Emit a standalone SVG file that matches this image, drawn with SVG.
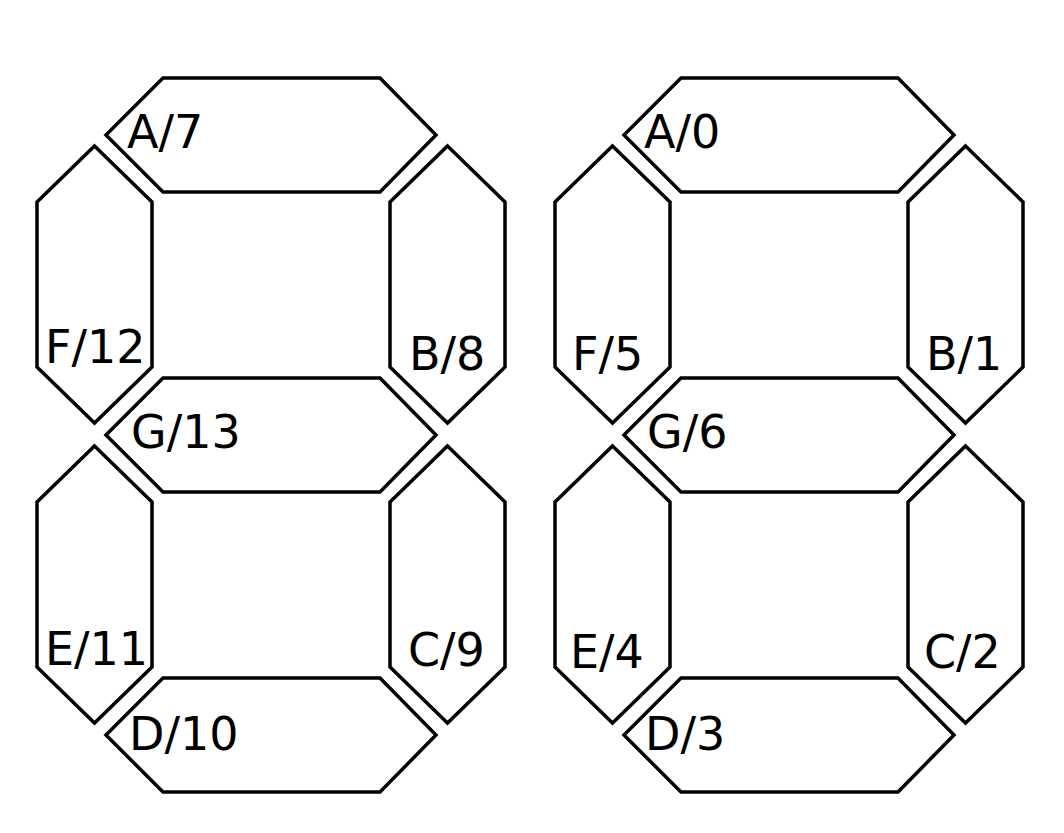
<svg xmlns="http://www.w3.org/2000/svg" width="1064" height="833" viewBox="0 0 1064 833">
<style>
.seg{fill:#fff;stroke:#000;stroke-width:3.5;stroke-linejoin:miter}
.lbl{font-family:"DejaVu Sans",Verdana,sans-serif;font-size:46px;fill:#000}
</style>
<defs>
<polygon id="h" points="106,135 163,78 380,78 436,135 380,192 163,192"/>
<polygon id="v" points="94.5,146 152,202 152,367 94.5,423 37,367 37,202"/>
</defs>
<rect width="1064" height="833" fill="#fff"/>
<g id="digit-left">
<g id="seg-A7"><use href="#h" class="seg"/><text class="lbl" x="127" y="148">A/7</text></g>
<g id="seg-F12"><use href="#v" class="seg"/><text class="lbl" x="45" y="363">F/12</text></g>
<g id="seg-B8"><use href="#v" class="seg" x="353"/><text class="lbl" x="409" y="370">B/8</text></g>
<g id="seg-G13"><use href="#h" class="seg" y="300"/><text class="lbl" x="131" y="448">G/13</text></g>
<g id="seg-E11"><use href="#v" class="seg" y="300"/><text class="lbl" x="45" y="665">E/11</text></g>
<g id="seg-C9"><use href="#v" class="seg" x="353" y="300"/><text class="lbl" x="408" y="666">C/9</text></g>
<g id="seg-D10"><use href="#h" class="seg" y="600"/><text class="lbl" x="129" y="750">D/10</text></g>
</g>
<g id="digit-right">
<g id="seg-A0"><use href="#h" class="seg" x="518"/><text class="lbl" x="644" y="148">A/0</text></g>
<g id="seg-F5"><use href="#v" class="seg" x="518"/><text class="lbl" x="572" y="370">F/5</text></g>
<g id="seg-B1"><use href="#v" class="seg" x="871"/><text class="lbl" x="926" y="370">B/1</text></g>
<g id="seg-G6"><use href="#h" class="seg" x="518" y="300"/><text class="lbl" x="647" y="448">G/6</text></g>
<g id="seg-E4"><use href="#v" class="seg" x="518" y="300"/><text class="lbl" x="570" y="668">E/4</text></g>
<g id="seg-C2"><use href="#v" class="seg" x="871" y="300"/><text class="lbl" x="924" y="668">C/2</text></g>
<g id="seg-D3"><use href="#h" class="seg" x="518" y="600"/><text class="lbl" x="645" y="750">D/3</text></g>
</g>
<g id="connectors"/>
</svg>
